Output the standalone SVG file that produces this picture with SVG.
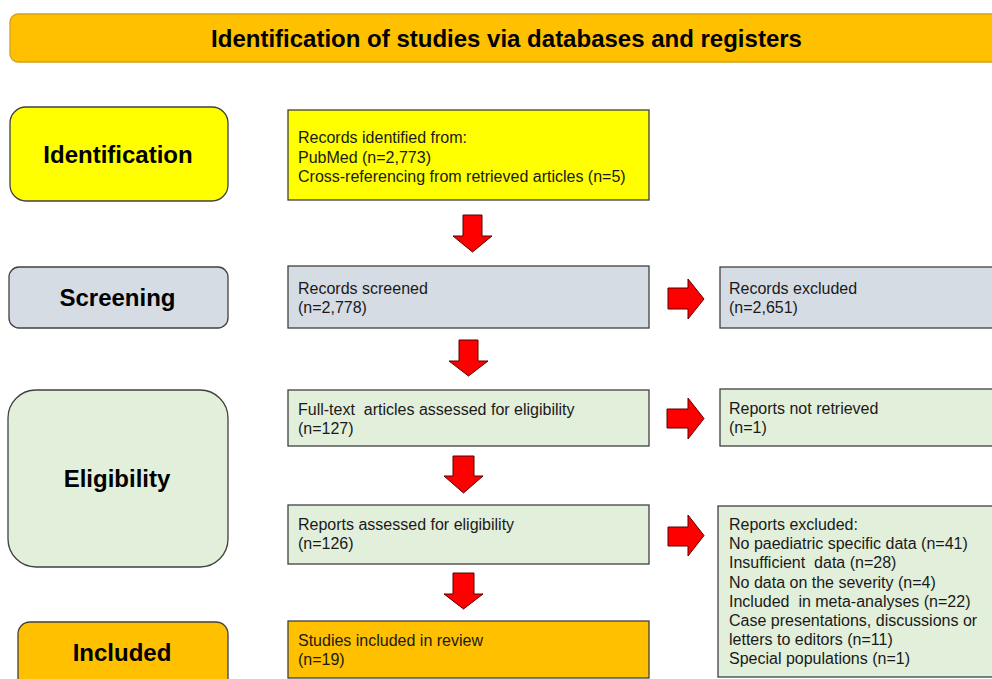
<svg xmlns="http://www.w3.org/2000/svg" width="992" height="679" viewBox="0 0 992 679">
<style>
.lbl{font-family:"Liberation Sans",Arial,sans-serif;font-weight:bold;font-size:24px;fill:#000;text-anchor:middle}
.txt{font-family:"Liberation Sans",Arial,sans-serif;font-size:16px;fill:#1a1a1a}
.box{stroke:#404040;stroke-width:1.3}
.arr{fill:#FF0000;stroke:#5a0000;stroke-width:1}
.yel{fill:#FFFF00}
.gry{fill:#D6DCE4}
.grn{fill:#E2EFDA}
.org{fill:#FFC000}
</style>
<rect width="992" height="679" fill="#fff"/>
<g id="header">
<rect x="10" y="14" width="1000" height="48" rx="8" fill="#FFC000" stroke="#D4A017" stroke-width="1.3"/>
<text class="lbl" x="506.5" y="47">Identification of studies via databases and registers</text>
</g>
<g id="stage-identification">
<rect class="box yel" x="10" y="107" width="218" height="94" rx="16"/>
<text class="lbl" x="118" y="163">Identification</text>
</g>
<g id="stage-screening">
<rect class="box gry" x="9" y="267" width="219" height="61" rx="10"/>
<text class="lbl" x="117.5" y="306">Screening</text>
</g>
<g id="stage-eligibility">
<rect class="box grn" x="8" y="390" width="220" height="177" rx="28"/>
<text class="lbl" x="117" y="487">Eligibility</text>
</g>
<g id="stage-included">
<rect class="box org" x="18" y="622" width="210" height="75" rx="12"/>
<text class="lbl" x="122" y="661">Included</text>
</g>
<g id="records-identified">
<rect class="box yel" x="288" y="110" width="361" height="90" stroke="#4d4d00"/>
<text class="txt" x="298" y="143">Records identified from:</text>
<text class="txt" x="298" y="162.5">PubMed (n=2,773)</text>
<text class="txt" x="298" y="182">Cross-referencing from retrieved articles (n=5)</text>
</g>
<g id="records-screened">
<rect class="box gry" x="288" y="266" width="361" height="62"/>
<text class="txt" x="298" y="294">Records screened</text>
<text class="txt" x="298" y="313">(n=2,778)</text>
</g>
<g id="records-excluded">
<rect class="box gry" x="720" y="267" width="290" height="61"/>
<text class="txt" x="729" y="294">Records excluded</text>
<text class="txt" x="729" y="313">(n=2,651)</text>
</g>
<g id="fulltext-assessed">
<rect class="box grn" x="288" y="390" width="361" height="56"/>
<text class="txt" x="298" y="414.5" xml:space="preserve">Full-text  articles assessed for eligibility</text>
<text class="txt" x="298" y="433.5">(n=127)</text>
</g>
<g id="reports-not-retrieved">
<rect class="box grn" x="720" y="389" width="290" height="57"/>
<text class="txt" x="729" y="414">Reports not retrieved</text>
<text class="txt" x="729" y="433">(n=1)</text>
</g>
<g id="reports-assessed">
<rect class="box grn" x="288" y="505" width="361" height="59"/>
<text class="txt" x="298" y="530">Reports assessed for eligibility</text>
<text class="txt" x="298" y="549">(n=126)</text>
</g>
<g id="reports-excluded">
<rect class="box grn" x="718" y="506" width="292" height="171"/>
<text class="txt" x="729" y="530">Reports excluded:</text>
<text class="txt" x="729" y="549.2">No paediatric specific data (n=41)</text>
<text class="txt" x="729" y="568.4" xml:space="preserve">Insufficient  data (n=28)</text>
<text class="txt" x="729" y="587.6">No data on the severity (n=4)</text>
<text class="txt" x="729" y="606.8" xml:space="preserve">Included  in meta-analyses (n=22)</text>
<text class="txt" x="729" y="626">Case presentations, discussions or</text>
<text class="txt" x="729" y="645.2">letters to editors (n=11)</text>
<text class="txt" x="729" y="664.4">Special populations (n=1)</text>
</g>
<g id="studies-included">
<rect class="box org" x="288" y="621" width="361" height="57"/>
<text class="txt" x="298" y="646">Studies included in review</text>
<text class="txt" x="298" y="665">(n=19)</text>
</g>
<g id="connectors">
<polygon class="arr" points="463,215 482,215 482,236 492,236 472.5,252 453,236 463,236"/>
<polygon class="arr" points="459,340 478,340 478,361 488,361 468.5,376 449,361 459,361"/>
<polygon class="arr" points="453,456 474,456 474,476 483,476 463.5,493 444,476 453,476"/>
<polygon class="arr" points="453,573 474,573 474,594 483,594 463.5,609 444,594 453,594"/>
<polygon class="arr" points="668,288 688,288 688,279 704,299 688,319 688,309 668,309"/>
<polygon class="arr" points="667,409 688,409 688,398 704,418.5 688,439 688,428 667,428"/>
<polygon class="arr" points="668,527 688,527 688,515 704,535.5 688,556 688,546 668,546"/>
</g>
</svg>
